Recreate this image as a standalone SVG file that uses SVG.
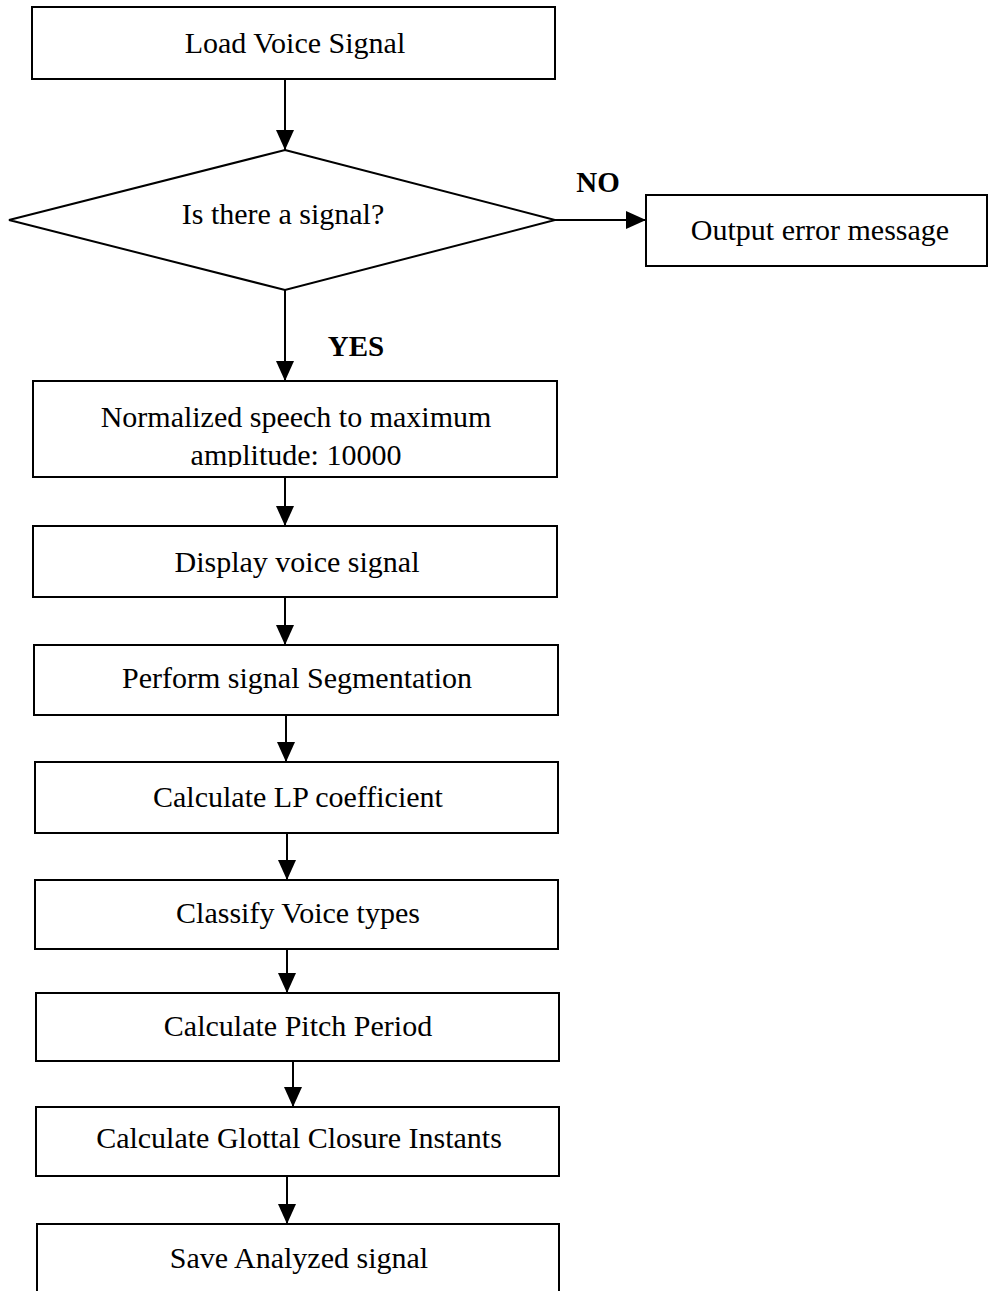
<svg xmlns="http://www.w3.org/2000/svg" width="988" height="1291" viewBox="0 0 988 1291">
  <style>
    .box { fill: #fff; stroke: #000; stroke-width: 2; }
    .lbl { font-family: "Liberation Serif", "Times New Roman", serif; font-size: 30px; fill: #000; text-anchor: middle; }
    .tag { font-family: "Liberation Serif", "Times New Roman", serif; font-size: 29px; font-weight: bold; fill: #000; text-anchor: middle; }
    .link { stroke: #000; stroke-width: 2; fill: none; marker-end: url(#arrow); }
  </style>
  <defs>
    <marker id="arrow" markerUnits="userSpaceOnUse" markerWidth="20" markerHeight="20" viewBox="0 0 20 20" refX="20" refY="10" orient="auto">
      <path d="M0,1 L20,10 L0,19 Z" fill="#000"/>
    </marker>
    <clipPath id="clipNorm">
      <rect x="33" y="381" width="524" height="86"/>
    </clipPath>
  </defs>
  <rect width="988" height="1291" fill="#fff"/>

  <g id="connectors">
    <line class="link" x1="285" y1="80" x2="285" y2="150"/>
    <line class="link" x1="555" y1="220" x2="646" y2="220"/>
    <line class="link" x1="285" y1="290" x2="285" y2="381"/>
    <line class="link" x1="285" y1="477" x2="285" y2="526"/>
    <line class="link" x1="285" y1="597" x2="285" y2="645"/>
    <line class="link" x1="286" y1="715" x2="286" y2="762"/>
    <line class="link" x1="287" y1="833" x2="287" y2="880"/>
    <line class="link" x1="287" y1="949" x2="287" y2="993"/>
    <line class="link" x1="293" y1="1061" x2="293" y2="1107"/>
    <line class="link" x1="287" y1="1176" x2="287" y2="1224"/>
    <text class="tag" x="598" y="192">NO</text>
    <text class="tag" x="356" y="356">YES</text>
  </g>

  <g id="load">
    <rect class="box" x="32" y="7" width="523" height="72"/>
    <text class="lbl" x="295" y="53">Load Voice Signal</text>
  </g>

  <g id="decision">
    <polygon class="box" points="285,150 555,220 285,290 9,220"/>
    <text class="lbl" x="283" y="224">Is there a signal?</text>
  </g>

  <g id="error">
    <rect class="box" x="646" y="195" width="341" height="71"/>
    <text class="lbl" x="820" y="240">Output error message</text>
  </g>

  <g id="normalize">
    <rect class="box" x="33" y="381" width="524" height="96"/>
    <g clip-path="url(#clipNorm)">
      <text class="lbl" x="296" y="427">Normalized speech to maximum</text>
      <text class="lbl" x="296" y="465">amplitude: 10000</text>
    </g>
  </g>

  <g id="display">
    <rect class="box" x="33" y="526" width="524" height="71"/>
    <text class="lbl" x="297" y="572">Display voice signal</text>
  </g>

  <g id="segment">
    <rect class="box" x="34" y="645" width="524" height="70"/>
    <text class="lbl" x="297" y="688">Perform signal Segmentation</text>
  </g>

  <g id="lpc">
    <rect class="box" x="35" y="762" width="523" height="71"/>
    <text class="lbl" x="298" y="807">Calculate LP coefficient</text>
  </g>

  <g id="classify">
    <rect class="box" x="35" y="880" width="523" height="69"/>
    <text class="lbl" x="298" y="923">Classify Voice types</text>
  </g>

  <g id="pitch">
    <rect class="box" x="36" y="993" width="523" height="68"/>
    <text class="lbl" x="298" y="1036">Calculate Pitch Period</text>
  </g>

  <g id="gci">
    <rect class="box" x="36" y="1107" width="523" height="69"/>
    <text class="lbl" x="299" y="1148">Calculate Glottal Closure Instants</text>
  </g>

  <g id="save">
    <rect class="box" x="37" y="1224" width="522" height="90"/>
    <text class="lbl" x="299" y="1268">Save Analyzed signal</text>
  </g>
</svg>
